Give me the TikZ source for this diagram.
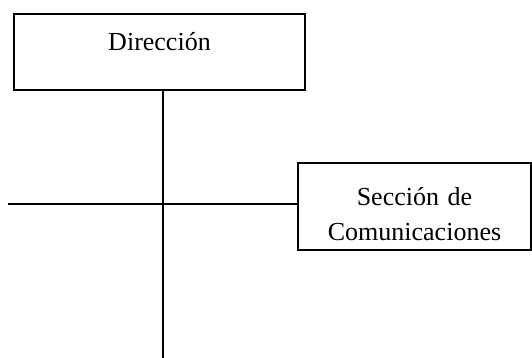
\documentclass[tikz,border=0pt]{standalone}
\usepackage{fontspec}
\setmainfont{Liberation Serif}
\usetikzlibrary{calc}

\begin{document}
\begin{tikzpicture}[x=1pt,y=-1pt,
	caja/.style={draw, line width=1.5pt, inner sep=0pt, align=center,
		font=\fontsize{26}{35}\selectfont},
	linea/.style={line width=1.5pt}]
\useasboundingbox (0,0) rectangle (532,358);

% Cajas
\node[caja, text width=291pt, text height=37pt, text depth=39pt] (dir) at (159.5,52) {Dirección};
\node[caja, text width=233pt, text height=42pt, text depth=45pt] (sec) at (414.5,206.5) {Sección de\\Comunicaciones};

% Extremos libres
\coordinate (abajo) at (163,358);
\coordinate (izq) at (8,204);

% Lineas
\draw[linea] (dir.south -| abajo) -- (abajo);
\draw[linea] (izq) -- (izq -| sec.west);
\end{tikzpicture}
\end{document}
